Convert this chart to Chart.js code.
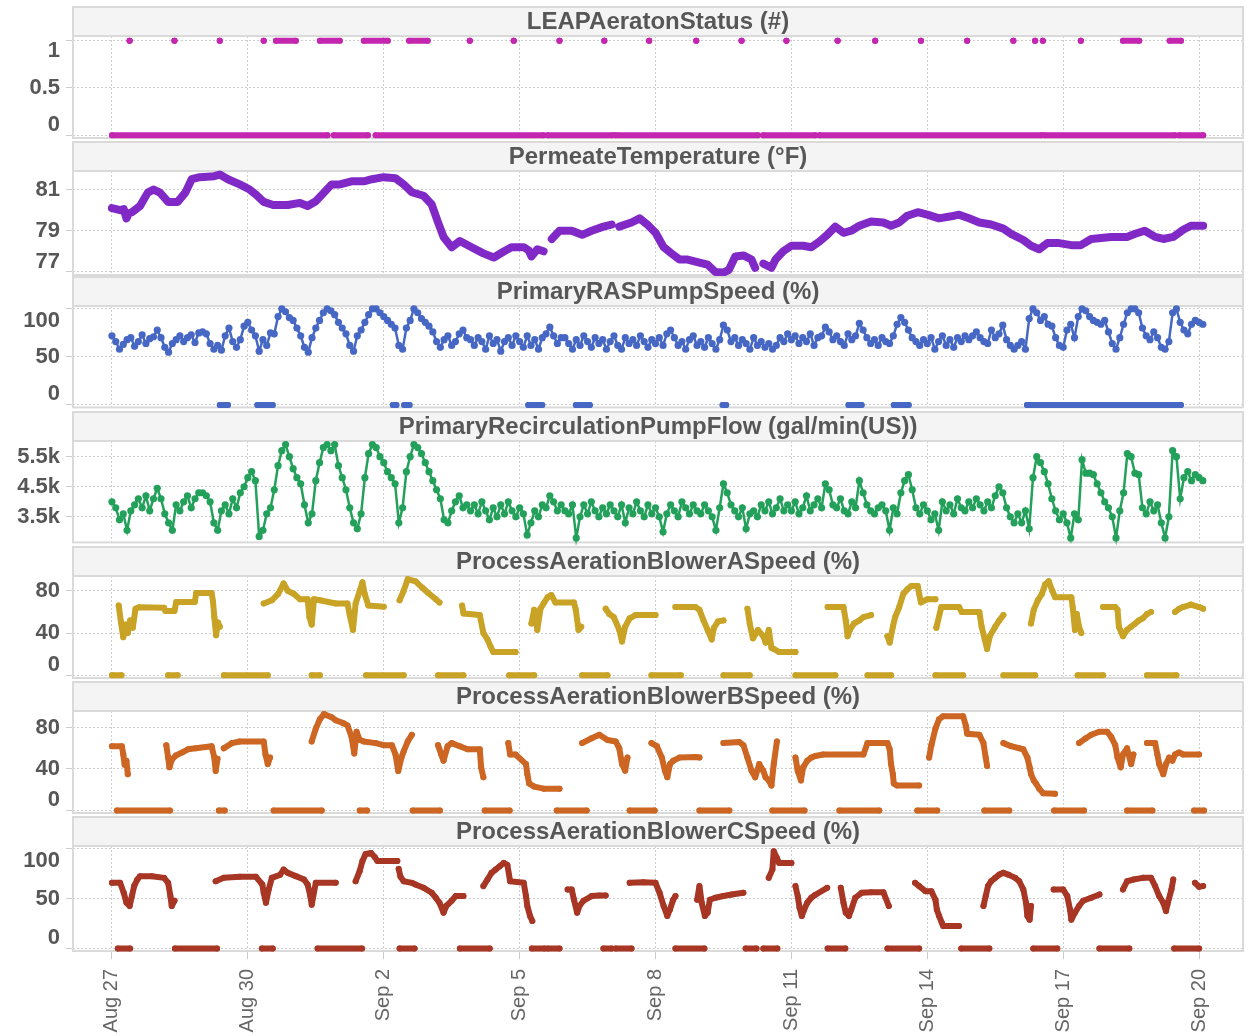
<!DOCTYPE html>
<html>
<head>
<meta charset="utf-8">
<script src="https://cdn.jsdelivr.net/npm/chart.js@4.4.0/dist/chart.umd.min.js"></script>
<style>
  html, body { margin: 0; padding: 0; background: #fff; }
  #wrap { position: relative; width: 1255px; height: 1036px; overflow: hidden; }
  .panel { position: absolute; left: 0; width: 1255px; }
</style>
</head>
<body>
<div id="wrap"></div>
<script>
// x positions are days since Aug 27 00:00
const xTickDays = [0, 3, 6, 9, 12, 15, 18, 21, 24];
const xTickLabels = ['Aug 27', 'Aug 30', 'Sep 2', 'Sep 5', 'Sep 8', 'Sep 11', 'Sep 14', 'Sep 17', 'Sep 20'];

const panelTitles = [
  'LEAPAeratonStatus (#)',
  'PermeateTemperature (°F)',
  'PrimaryRASPumpSpeed (%)',
  'PrimaryRecirculationPumpFlow (gal/min(US))',
  'ProcessAerationBlowerASpeed (%)',
  'ProcessAerationBlowerBSpeed (%)',
  'ProcessAerationBlowerCSpeed (%)'
];

const statusTicks = [0, 0.5, 1];
const tempTicks = [77, 79, 81];
const rasTicks = [0, 50, 100];
const flowTicks = [3500, 4500, 5500];
const flowTickLabels = ['3.5k', '4.5k', '5.5k'];
const blowerABTicks = [0, 40, 80];
const blowerCTicks = [0, 50, 100];

// LEAP aeration status: [start, end] spans at 0 and at 1
const statusOffSpans = [[0, 4.76], [4.9, 5.65], [5.82, 9.53], [9.62, 11.05], [11.12, 14.26],
  [14.38, 15.53], [15.62, 20.52], [20.59, 23.47], [23.56, 24.09]];
const statusOnSpans = [[0.39, 0.39], [1.38, 1.38], [2.38, 2.38], [3.35, 3.35], [3.62, 4.06],
  [4.59, 5.03], [5.56, 6.09], [6.56, 6.97], [7.9, 7.9], [8.87, 8.87], [9.88, 9.88],
  [10.87, 10.87], [11.86, 11.86], [12.9, 12.9], [13.9, 13.9], [14.89, 14.89], [16.02, 16.02],
  [16.85, 16.85], [17.86, 17.86], [18.88, 18.88], [19.9, 19.9], [20.38, 20.38], [20.55, 20.55],
  [21.39, 21.39], [22.32, 22.68], [23.35, 23.6]];

// permeate temperature, [day, degF]
const temperature = [
  [[0, 80.1], [0.18, 80.0], [0.26, 80.05], [0.32, 79.6], [0.38, 79.85], [0.44, 79.9], [0.62, 80.2], [0.79, 80.85], [0.92, 81.0],
   [1.06, 80.85], [1.24, 80.4], [1.45, 80.4], [1.62, 80.85], [1.76, 81.5], [1.94, 81.6], [2.26, 81.65],
   [2.38, 81.73], [2.56, 81.5], [2.82, 81.25], [3.04, 81.0], [3.18, 80.75], [3.35, 80.4], [3.56, 80.25],
   [3.88, 80.25], [4.15, 80.35], [4.32, 80.2], [4.5, 80.43], [4.68, 80.85], [4.85, 81.25], [5.03, 81.25],
   [5.29, 81.4], [5.56, 81.4], [5.74, 81.5], [6.0, 81.6], [6.26, 81.55], [6.44, 81.25], [6.62, 80.87],
   [6.88, 80.7], [7.06, 80.27], [7.2, 79.4], [7.32, 78.7], [7.5, 78.2], [7.68, 78.5], [7.94, 78.2],
   [8.2, 77.9], [8.43, 77.7], [8.65, 77.99], [8.82, 78.2], [9.09, 78.2], [9.2, 78.05], [9.26, 77.75], [9.39, 78.1], [9.53, 78.0]],
  [[9.71, 78.6], [9.88, 79.0], [10.15, 79.0], [10.38, 78.8], [10.59, 79.0], [10.85, 79.2], [11.03, 79.3]],
  [[11.2, 79.2], [11.47, 79.4], [11.65, 79.6], [11.82, 79.3], [12.0, 78.9], [12.18, 78.2], [12.35, 77.9],
   [12.53, 77.6], [12.71, 77.6], [12.97, 77.45], [13.15, 77.35], [13.32, 77.0], [13.5, 76.97], [13.62, 77.1],
   [13.76, 77.75], [13.94, 77.8], [14.12, 77.6], [14.2, 77.2]],
  [[14.38, 77.4], [14.56, 77.2], [14.65, 77.6], [14.82, 78.0], [15.0, 78.27], [15.26, 78.27], [15.44, 78.2],
   [15.62, 78.48], [15.79, 78.8], [15.97, 79.2], [16.15, 78.9], [16.32, 79.0], [16.5, 79.24], [16.76, 79.45],
   [17.03, 79.4], [17.2, 79.24], [17.38, 79.4], [17.56, 79.73], [17.79, 79.9], [18.0, 79.78], [18.26, 79.6],
   [18.53, 79.7], [18.7, 79.78], [18.92, 79.6], [19.15, 79.4], [19.41, 79.3], [19.68, 79.1], [19.85, 78.85],
   [20.12, 78.55], [20.29, 78.27], [20.47, 78.1], [20.65, 78.4], [20.91, 78.4], [21.18, 78.3], [21.39, 78.3],
   [21.62, 78.6], [22.06, 78.7], [22.41, 78.7], [22.59, 78.85], [22.8, 79.0], [23.03, 78.7], [23.21, 78.6],
   [23.43, 78.7], [23.65, 79.05], [23.82, 79.24], [24.09, 79.24]]
];

// RAS pump speed, one reading every 2 hours from Aug 27 00:00 (12 per row = 1 day)
const sampleStep = 1 / 12;
const rasSpeed = [
  72, 66, 58, 63, 68, 70, 61, 66, 73, 64, 69, 71,
  78, 70, 60, 55, 64, 68, 72, 66, 70, 73, 65, 75,
  76, 74, 64, 58, 62, 57, 72, 80, 66, 60, 68, 82,
  86, 78, 72, 56, 68, 62, 75, 74, 92, 100, 97, 91,
  88, 80, 72, 60, 55, 70, 80, 88, 96, 100, 98, 94,
  86, 80, 74, 62, 56, 72, 78, 86, 94, 100, 100, 96,
  92, 88, 84, 80, 62, 58, 80, 88, 100, 96, 90, 86,
  82, 76, 66, 60, 68, 72, 62, 66, 74, 78, 70, 68,
  62, 70, 66, 58, 72, 64, 68, 56, 66, 70, 62, 72,
  66, 60, 72, 62, 68, 58, 70, 74, 81, 72, 64, 70,
  70, 64, 58, 68, 62, 72, 66, 60, 70, 64, 68, 58,
  66, 72, 62, 58, 70, 64, 68, 62, 72, 66, 60, 68,
  64, 70, 62, 74, 78, 70, 62, 66, 58, 68, 72, 62,
  66, 60, 70, 64, 58, 68, 83, 78, 66, 70, 62, 68,
  64, 58, 70, 62, 66, 60, 64, 58, 62, 70, 66, 74,
  68, 72, 64, 70, 66, 74, 62, 70, 72, 81, 76, 68,
  72, 66, 62, 74, 68, 72, 85, 78, 70, 64, 68, 62,
  70, 66, 64, 72, 84, 91, 86, 78, 70, 66, 62, 68,
  64, 70, 58, 66, 72, 62, 68, 60, 70, 66, 72, 68,
  72, 76, 70, 66, 64, 78, 70, 74, 83, 68, 62, 58,
  62, 66, 58, 90, 100, 96, 88, 92, 84, 82, 70, 62,
  60, 78, 84, 70, 92, 100, 98, 92, 88, 86, 84, 88,
  76, 64, 58, 70, 84, 96, 100, 100, 96, 80, 72, 68,
  76, 70, 60, 58, 66, 96, 100, 86, 78, 74, 84, 88,
  86, 84
];
const rasZeroSpans = [[2.38, 2.56], [3.21, 3.55], [6.2, 6.28], [6.45, 6.57], [9.19, 9.5],
  [10.24, 10.55], [13.48, 13.56], [16.26, 16.55], [17.26, 17.59], [20.2, 23.6]];

// recirculation pump flow (gal/min), same 2-hour sampling
const flowRate = [
  4000, 3800, 3400, 3600, 3050, 3700, 3900, 4100, 3800, 4200, 3700, 4100,
  4450, 4100, 3600, 3300, 3050, 3900, 3700, 4000, 4200, 3800, 4100, 4300,
  4300, 4200, 4000, 3300, 3050, 3700, 3900, 3600, 4100, 3800, 4300, 4500,
  4800, 5000, 4700, 2850, 3050, 3600, 3800, 4400, 5200, 5700, 5900, 5500,
  5100, 4800, 4600, 3900, 3300, 3600, 4700, 5300, 5800, 5900, 5700, 5900,
  5200, 4800, 4400, 3800, 3300, 3100, 3600, 4800, 5600, 5900, 5800, 5500,
  5300, 5000, 4800, 4600, 3300, 3800, 5000, 5500, 5900, 5800, 5600, 5300,
  5000, 4700, 4400, 4100, 3400, 3300, 3700, 4000, 4200, 3800, 3900, 3700,
  3900, 3600, 4000, 3700, 3400, 3800, 3500, 3900, 3600, 4000, 3700, 3500,
  3800, 3600, 2900, 3300, 3700, 3500, 3900, 3800, 4200, 4000, 3700, 3900,
  3700, 3600, 3900, 2800, 3500, 3900, 3600, 4000, 3700, 3500, 3800, 3600,
  3900, 3700, 3500, 3900, 3300, 3800, 3600, 4000, 3700, 3500, 3900, 3600,
  3800, 3500, 3000, 3600, 3900, 3700, 3500, 4000, 3800, 3600, 3900, 3700,
  3600, 3900, 3700, 3500, 3050, 3800, 4600, 4300, 3900, 3700, 3500, 3800,
  3100, 3600, 3700, 3500, 3900, 3700, 4000, 3600, 3800, 4100, 3700, 3900,
  3700, 4000, 3600, 3800, 4200, 3700, 3900, 4100, 3800, 4600, 4400, 3900,
  3800, 4100, 3700, 3600, 4000, 3800, 4700, 4300, 3900, 3700, 3600, 3800,
  3900, 3700, 3050, 3800, 3600, 4300, 4700, 4900, 4400, 3800, 3600, 3900,
  3700, 3400, 3600, 3050, 4000, 3700, 3900, 3600, 4100, 3800, 3700, 4000,
  3800, 4100, 3900, 3700, 4000, 3800, 4200, 4500, 4300, 3800, 3500, 3300,
  3600, 3300, 3700, 3100, 4800, 5500, 5300, 5000, 4600, 4100, 3700, 3400,
  3600, 3300, 2800, 3600, 3400, 5400, 4950, 4950, 4900, 4600, 4300, 4000,
  3800, 3500, 2800, 3700, 4300, 5600, 5500, 4950, 4900, 3800, 3600, 4000,
  3700, 3900, 3300, 2800, 3500, 5700, 5500, 4100, 4800, 5000, 4700, 4900,
  4800, 4700
];

// blower speeds (%): running segments as [day, value], off periods as [start, end]
const blowerAOn = [
  [[0.15, 66], [0.2, 50], [0.25, 36], [0.3, 48], [0.35, 40], [0.4, 52], [0.46, 45], [0.52, 63], [0.6, 64.5],
   [1.15, 64], [1.18, 61], [1.38, 61], [1.42, 69.5], [1.83, 69.5], [1.86, 78], [2.2, 78], [2.23, 70],
   [2.26, 55], [2.3, 38], [2.34, 50], [2.38, 46]],
  [[3.35, 68], [3.53, 71], [3.67, 77], [3.79, 87], [3.88, 80], [4.02, 77], [4.15, 72], [4.32, 72], [4.36, 55],
   [4.41, 48], [4.46, 72], [4.59, 71], [4.94, 68], [5.2, 68], [5.25, 57], [5.32, 43], [5.38, 68], [5.47, 80],
   [5.53, 88], [5.58, 77], [5.66, 66], [6.0, 65]],
  [[6.35, 71], [6.44, 80], [6.53, 91], [6.7, 89], [6.85, 83], [6.97, 78.5], [7.15, 72], [7.23, 69]],
  [[7.73, 66], [7.76, 58.5], [8.12, 57], [8.2, 40], [8.29, 34], [8.36, 27], [8.42, 22], [8.91, 22]],
  [[9.26, 49], [9.32, 62], [9.39, 43], [9.46, 63], [9.53, 68], [9.62, 74], [9.7, 76], [9.79, 69], [10.2, 69],
   [10.24, 62], [10.3, 43], [10.36, 46]],
  [[10.9, 63], [10.98, 58], [11.08, 55], [11.2, 43], [11.26, 32], [11.33, 46], [11.43, 54], [11.56, 57], [12.0, 57]],
  [[12.44, 64.6], [12.88, 64.6], [12.97, 62], [13.06, 52], [13.15, 43], [13.24, 34], [13.29, 45], [13.38, 51], [13.5, 52]],
  [[14.03, 63], [14.08, 49], [14.15, 35], [14.26, 43], [14.38, 37], [14.43, 31], [14.5, 43], [14.56, 26],
   [14.61, 25], [14.73, 22], [15.09, 22]],
  [[15.8, 64.6], [16.15, 64.6], [16.2, 52], [16.24, 37], [16.29, 43], [16.38, 49], [16.5, 52], [16.59, 55], [16.76, 57]],
  [[17.12, 37], [17.17, 31], [17.24, 46], [17.29, 55], [17.38, 64.6], [17.47, 77], [17.56, 81.5], [17.65, 84.6],
   [17.79, 84.6], [17.82, 77], [17.86, 69], [18.0, 72], [18.18, 72]],
  [[18.2, 45], [18.31, 64.6], [18.7, 64.6], [18.76, 60], [19.15, 60], [19.2, 46], [19.27, 34], [19.32, 25],
   [19.38, 37], [19.5, 46], [19.59, 52], [19.68, 57]],
  [[20.29, 49], [20.35, 62], [20.44, 71], [20.53, 77], [20.6, 86], [20.68, 89], [20.76, 80], [20.82, 74],
   [21.18, 74], [21.21, 64.6], [21.26, 43], [21.3, 58], [21.35, 46], [21.4, 40]],
  [[21.88, 64.6], [22.15, 64.6], [22.2, 62], [22.23, 46], [22.32, 37], [22.41, 43], [22.5, 46], [22.59, 49],
   [22.67, 52], [22.76, 54], [22.85, 58], [22.94, 60]],
  [[23.47, 60], [23.56, 63], [23.65, 64.6], [23.82, 67], [24.0, 64.6], [24.09, 63]]
];
const blowerAOff = [[0, 0.21], [1.24, 1.45], [2.47, 3.44], [4.41, 4.59], [5.61, 6.44], [7.2, 7.76],
  [8.77, 9.32], [10.38, 10.94], [11.91, 12.56], [13.5, 14.08], [15.09, 15.97], [16.68, 17.2],
  [18.18, 18.79], [19.68, 20.38], [21.32, 21.88], [22.85, 23.5]];

const blowerBOn = [
  [[0, 62], [0.22, 62], [0.25, 54], [0.28, 44], [0.32, 48], [0.35, 35]],
  [[1.2, 63], [1.24, 51], [1.27, 41.6], [1.32, 49], [1.41, 53], [1.55, 56], [1.68, 59], [1.85, 60], [2.2, 62],
   [2.26, 51], [2.29, 38], [2.33, 50]],
  [[2.47, 60], [2.65, 65], [2.82, 66.6], [3.35, 66.6], [3.39, 54], [3.44, 44.7], [3.49, 51]],
  [[4.41, 66.6], [4.5, 79], [4.59, 88], [4.68, 93], [4.85, 90], [4.94, 87], [5.12, 84], [5.2, 82], [5.29, 71],
   [5.35, 55], [5.4, 76], [5.47, 68], [5.56, 66.6], [5.82, 65], [6.0, 63], [6.18, 63], [6.26, 54], [6.32, 38],
   [6.39, 51], [6.44, 57], [6.53, 66.6], [6.62, 73]],
  [[7.2, 63], [7.27, 54], [7.32, 48], [7.41, 62], [7.5, 65], [7.68, 62], [7.85, 59], [8.12, 59], [8.15, 41.6], [8.2, 32]],
  [[8.75, 65], [8.79, 54], [8.91, 54], [9.14, 44.7], [9.17, 35], [9.21, 26], [9.32, 23], [9.53, 21], [9.88, 21]],
  [[10.38, 65], [10.59, 69.7], [10.76, 73], [10.94, 68], [11.12, 66.6], [11.2, 60], [11.26, 44.7], [11.33, 38.4], [11.38, 51]],
  [[11.91, 65], [12.03, 62], [12.14, 51], [12.21, 38], [12.26, 32], [12.32, 44.7], [12.39, 48], [12.53, 51],
   [12.88, 51.5], [12.97, 51]],
  [[13.5, 65], [13.85, 66], [13.94, 63], [14.03, 51], [14.12, 38.4], [14.2, 32], [14.29, 44.7], [14.38, 38],
   [14.43, 32], [14.5, 29], [14.56, 24], [14.61, 44.7], [14.68, 66.6]],
  [[15.09, 51], [15.14, 38], [15.21, 29], [15.26, 41.6], [15.35, 48], [15.44, 51], [15.53, 52.5], [15.7, 54],
   [16.59, 54], [16.68, 65], [17.12, 65], [17.17, 59], [17.2, 44.7], [17.24, 35], [17.26, 26], [17.33, 24], [17.82, 24]],
  [[18.04, 51], [18.09, 63], [18.18, 79], [18.26, 88], [18.35, 91], [18.79, 91], [18.85, 82], [18.88, 74],
   [19.15, 73], [19.24, 65], [19.29, 51], [19.32, 43]],
  [[19.68, 65], [19.85, 62], [20.03, 60], [20.12, 59], [20.21, 51], [20.26, 41.6], [20.29, 35], [20.35, 29],
   [20.4, 26], [20.47, 21], [20.56, 16.6], [20.82, 16]],
  [[21.35, 65], [21.5, 69.7], [21.62, 73], [21.8, 76], [21.97, 76], [22.06, 71], [22.15, 63], [22.2, 51],
   [22.27, 41.6], [22.32, 54], [22.41, 60], [22.5, 44.7], [22.55, 54]],
  [[22.85, 65], [23.03, 65], [23.08, 54], [23.12, 44.7], [23.21, 35], [23.27, 44.7], [23.34, 51], [23.41, 48],
   [23.47, 54], [23.56, 56], [23.65, 54], [24.0, 54]]
];
const blowerBOff = [[0.11, 1.28], [2.36, 2.49], [3.57, 4.63], [5.47, 5.63], [6.64, 7.24], [8.23, 8.78],
  [9.82, 10.48], [11.43, 11.98], [12.97, 13.63], [14.58, 15.29], [16.06, 16.94], [17.78, 18.22],
  [19.26, 19.81], [20.8, 21.46], [22.41, 22.97], [23.89, 24.11]];

const blowerCOn = [
  [[0, 66], [0.18, 66], [0.26, 56], [0.32, 46], [0.39, 42.7], [0.44, 52.7], [0.49, 62.7], [0.56, 69.3],
   [0.62, 72.7], [0.88, 72.7], [1.15, 71], [1.24, 66], [1.29, 52.7], [1.32, 42.7], [1.38, 48]],
  [[2.29, 67.6], [2.47, 71], [2.82, 72], [3.18, 72], [3.32, 64.3], [3.35, 56], [3.4, 46], [3.46, 59.3],
   [3.53, 71], [3.71, 74], [3.79, 79.3], [3.88, 76], [4.06, 72.7], [4.24, 69.3], [4.32, 64.3], [4.38, 52.7],
   [4.41, 44], [4.5, 66], [4.94, 66]],
  [[5.38, 67.6], [5.47, 78], [5.53, 88], [5.6, 95], [5.72, 96], [5.8, 92], [5.86, 88], [6.3, 88]],
  [[6.33, 80], [6.37, 72], [6.44, 67.6], [6.62, 66], [6.7, 64.3], [6.88, 61], [7.06, 56], [7.15, 51], [7.23, 46],
   [7.32, 36], [7.38, 42.7], [7.5, 48], [7.59, 52.7], [7.76, 52.7]],
  [[8.2, 62.7], [8.29, 69.3], [8.38, 76], [8.47, 79.3], [8.56, 82.7], [8.65, 86], [8.73, 84], [8.79, 67.6],
   [9.09, 66], [9.14, 52.7], [9.17, 42.7], [9.23, 32.7], [9.28, 27.7]],
  [[10.06, 59.3], [10.15, 59.3], [10.2, 49], [10.27, 36], [10.32, 42.7], [10.41, 48], [10.59, 52.7],
   [10.76, 53.3], [10.9, 53.3]],
  [[11.43, 66], [11.73, 66.6], [12.0, 66], [12.09, 56], [12.18, 42.7], [12.26, 32.7], [12.32, 39.3],
   [12.39, 49], [12.44, 52.7]],
  [[12.92, 49], [12.97, 62.7], [13.02, 46], [13.09, 32.7], [13.15, 36], [13.2, 49], [13.32, 51], [13.5, 52.7],
   [13.68, 54.3], [13.94, 56]],
  [[14.5, 71], [14.58, 79.3], [14.61, 97.7], [14.68, 91], [14.73, 86], [15.0, 86]],
  [[15.09, 62.7], [15.14, 52.7], [15.18, 41], [15.23, 32.7], [15.28, 39], [15.35, 46], [15.44, 51], [15.53, 54], [15.79, 61]],
  [[16.09, 61], [16.15, 46], [16.2, 36], [16.27, 32.7], [16.32, 39], [16.41, 51], [16.55, 56], [16.76, 56.6],
   [17.03, 56.6], [17.15, 42.7]],
  [[17.73, 66], [17.82, 62.7], [17.96, 57.6], [18.09, 57.6], [18.18, 49], [18.21, 39.3], [18.26, 32.7],
   [18.32, 26], [18.35, 22.7], [18.7, 22.7]],
  [[19.24, 42.7], [19.29, 52.7], [19.34, 62.7], [19.41, 67.6], [19.5, 71], [19.59, 74.3], [19.68, 76],
   [19.8, 74], [19.94, 71], [20.03, 67.6], [20.12, 59.3], [20.18, 46], [20.21, 32.7], [20.26, 29], [20.29, 42.7]],
  [[20.79, 59.3], [21.0, 59.3], [21.09, 52.7], [21.15, 39.3], [21.18, 29], [21.26, 36], [21.35, 42.7],
   [21.44, 48], [21.62, 51], [21.8, 54.3]],
  [[22.32, 59.3], [22.41, 67.6], [22.55, 69.3], [22.76, 71], [22.94, 71], [23.03, 62.7], [23.12, 52.7],
   [23.21, 46], [23.27, 37.6], [23.3, 44], [23.39, 59.3], [23.43, 69.3]],
  [[23.91, 66], [24.0, 62], [24.09, 62.7]]
];
const blowerCOff = [[0.13, 0.4], [1.39, 2.32], [3.31, 3.55], [4.54, 5.52], [6.35, 6.68], [7.68, 8.34],
  [9.27, 9.55], [9.62, 9.88], [10.85, 11.03], [11.12, 11.47], [12.44, 13.08], [13.99, 14.23],
  [14.38, 14.69], [15.8, 16.19], [17.12, 17.82], [18.75, 19.37], [20.34, 20.87], [21.8, 22.46], [23.45, 24.0]];

const FONT = '"Liberation Sans", Arial, Helvetica, sans-serif';
const GRID = '#cdcdcd';
const FRAME = '#dadada';

function spanPoints(spans, value) {
  const pts = [];
  spans.forEach(([s, e]) => pts.push({x: s, y: value}, {x: e, y: value}, {x: e, y: null}));
  return pts;
}
function segPoints(segs) {
  const pts = [];
  segs.forEach(seg => {
    seg.forEach(([x, y]) => pts.push({x, y}));
    pts.push({x: seg[seg.length - 1][0], y: null});
  });
  return pts;
}
function stepPoints(values, step) {
  return values.map((v, i) => ({x: i * step, y: v}));
}

function lineSet(data, color, width, radius) {
  return {
    data, borderColor: color, backgroundColor: color, borderWidth: width,
    pointRadius: radius, pointBorderWidth: 0, pointHoverRadius: 0, clip: 8,
    borderCapStyle: 'round', borderJoinStyle: 'round', spanGaps: false, tension: 0
  };
}
function dotSet(data, color) {
  return {
    data, borderColor: color, backgroundColor: color, borderWidth: 2.5, clip: 8,
    pointRadius: 3.6, pointBorderWidth: 0, pointHoverRadius: 0, tension: 0
  };
}

const panels = [
  {min: -0.03, max: 1.05, ticks: statusTicks, labels: ['0', '0.5', '1'], sets: [
    lineSet(spanPoints(statusOffSpans, 0), '#c426b0', 6, 3),
    lineSet(spanPoints(statusOnSpans, 1), '#c426b0', 6, 3)]},
  {min: 76.85, max: 81.9, ticks: tempTicks, labels: tempTicks.map(String), sets: [
    lineSet(segPoints(temperature), '#8129c7', 8, 0)]},
  {min: -2.5, max: 103, ticks: rasTicks, labels: rasTicks.map(String), sets: [
    dotSet(stepPoints(rasSpeed, sampleStep), '#4668c4'),
    lineSet(spanPoints(rasZeroSpans, 0), '#4668c4', 6, 3)]},
  {min: 2650, max: 6020, ticks: flowTicks, labels: flowTickLabels, sets: [
    dotSet(stepPoints(flowRate, sampleStep), '#23a05a')]},
  {min: -2.5, max: 94, ticks: blowerABTicks, labels: blowerABTicks.map(String), sets: [
    lineSet(segPoints(blowerAOn), '#c9a326', 6, 3),
    lineSet(spanPoints(blowerAOff, 0), '#c9a326', 6, 3)]},
  {min: -2.5, max: 96, ticks: blowerABTicks, labels: blowerABTicks.map(String), sets: [
    lineSet(segPoints(blowerBOn), '#cc6622', 6, 3),
    lineSet(spanPoints(blowerBOff, 0), '#cc6622', 6, 3)]},
  {min: -2.5, max: 103, ticks: blowerCTicks, labels: blowerCTicks.map(String), sets: [
    lineSet(segPoints(blowerCOn), '#a83624', 6, 3),
    lineSet(spanPoints(blowerCOff, 0), '#a83624', 6, 3)]}
];

const wrap = document.getElementById('wrap');

panels.forEach((p, i) => {
  const last = i === panels.length - 1;
  const h = last ? 221 : 135;
  const div = document.createElement('div');
  div.className = 'panel';
  div.style.top = (6 + i * 135) + 'px';
  div.style.height = h + 'px';
  const canvas = document.createElement('canvas');
  canvas.width = 1255;
  canvas.height = h;
  div.appendChild(canvas);
  wrap.appendChild(div);

  const decor = {
    id: 'decor' + i,
    beforeDraw(chart) {
      const {ctx, chartArea: a} = chart;
      ctx.save();
      ctx.fillStyle = '#f4f4f4';
      ctx.fillRect(a.left, 1, a.right - a.left, a.top - 1);
      ctx.strokeStyle = FRAME;
      ctx.lineWidth = 2;
      ctx.strokeRect(a.left, 1, a.right - a.left, a.top - 1);
      ctx.fillStyle = '#575757';
      ctx.font = 'bold 24px ' + FONT;
      ctx.textAlign = 'center';
      ctx.textBaseline = 'middle';
      ctx.fillText(panelTitles[i], (a.left + a.right) / 2, a.top / 2 + 1);
      ctx.restore();
    },
    beforeDatasetsDraw(chart) {
      const {ctx, chartArea: a} = chart;
      ctx.save();
      ctx.strokeStyle = FRAME;
      ctx.lineWidth = 2;
      ctx.strokeRect(a.left, a.top, a.right - a.left, a.bottom - a.top);
      ctx.restore();
    },
    afterDraw(chart) {
      const {ctx, chartArea: a} = chart;
      const ys = chart.scales.y;
      ctx.save();
      ctx.fillStyle = '#575757';
      ctx.font = 'bold 22px ' + FONT;
      ctx.textAlign = 'right';
      ctx.textBaseline = 'middle';
      ys.ticks.forEach((t, k) => {
        let py = ys.getPixelForValue(t.value);
        py = Math.min(Math.max(py, a.top + 15), a.bottom - 13);
        ctx.fillText(p.labels[k], a.left - 13, py);
      });
      ctx.restore();
    }
  };

  new Chart(canvas, {
    type: 'line',
    data: {datasets: p.sets},
    options: {
      responsive: false,
      animation: false,
      layout: {padding: {top: 30, right: 12, left: 0, bottom: last ? 0 : 1}},
      plugins: {legend: {display: false}, tooltip: {enabled: false}},
      scales: {
        x: {
          type: 'linear', min: -0.86, max: 24.97,
          afterBuildTicks: s => { s.ticks = xTickDays.map(v => ({value: v})); },
          afterFit: s => { s.height = last ? 86 : 0; },
          ticks: {
            display: last, autoSkip: false, minRotation: 90, maxRotation: 90, padding: 10,
            color: '#666', font: {family: FONT, size: 20},
            callback: (v, k) => xTickLabels[k]
          },
          grid: {color: GRID, drawTicks: last, tickLength: 8, tickColor: '#cccccc'},
          border: {display: false, dash: [2, 2]}
        },
        y: {
          min: p.min, max: p.max,
          afterBuildTicks: s => { s.ticks = p.ticks.map(v => ({value: v})); },
          afterFit: s => { s.width = 73; },
          ticks: {display: false},
          grid: {color: GRID, drawTicks: true, tickLength: 7, tickColor: '#cccccc'},
          border: {display: false, dash: [2, 2]}
        }
      }
    },
    plugins: [decor]
  });
});
</script>
</body>
</html>
